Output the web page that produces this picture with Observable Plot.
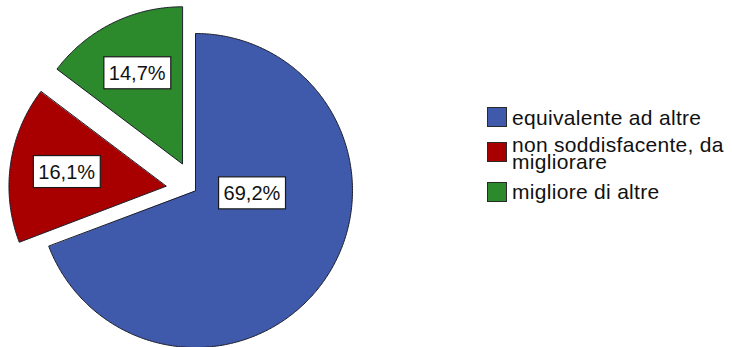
<!DOCTYPE html>
<html>
<head>
<meta charset="utf-8">
<script src="https://cdn.jsdelivr.net/npm/d3@7"></script>
<script src="https://cdn.jsdelivr.net/npm/@observablehq/plot@0.6"></script>
<style>
  html, body { margin: 0; padding: 0; background: #ffffff; }
  #wrap { position: relative; width: 732px; height: 347px; overflow: hidden; font-family: Arial, "Liberation Sans", sans-serif; }
  #wrap svg { position: absolute; left: 0; top: 0; }
  .lg-swatch { position: absolute; width: 20px; height: 20px; border: 1px solid #2a2a2a; box-sizing: border-box; }
  .lg-text { position: absolute; width: 230px; font-size: 21px; line-height: 17px; letter-spacing: 0.3px; color: #111; white-space: pre; }
</style>
</head>
<body>
<div id="wrap"></div>
<script>
// ---- data ----
const categories = ["equivalente ad altre", "non soddisfacente, da\nmigliorare", "migliore di altre"];
const percents = [69.2, 16.1, 14.7];
const colors = ["#3f5aab", "#a80000", "#2c8a2c"];
const explodedSlices = [false, true, true];

// ---- layout ----
const W = 732, H = 347;
const cx = 195, cy = 190, R = 157;   // pie centre and radius in the picture
const explode = 0.19;                 // offset of exploded slices, in radii
const labelOverride = {0: {r: 0.36, deg: 93}}; // big slice label placement (polar, radii/degrees)

const arcs = d3.pie().sort(null).value(d => d)(percents);
const pts = [];
const labels = [];
arcs.forEach((a, i) => {
  const cat = categories[i];
  const mid = (a.startAngle + a.endAngle) / 2;
  const ox = explodedSlices[i] ? explode * Math.sin(mid) : 0;
  const oy = explodedSlices[i] ? explode * Math.cos(mid) : 0;
  pts.push({cat, x: ox, y: oy});
  const n = Math.max(2, Math.ceil((a.endAngle - a.startAngle) / 0.01));
  for (let k = 0; k <= n; k++) {
    const t = a.startAngle + (a.endAngle - a.startAngle) * k / n;
    pts.push({cat, x: ox + Math.sin(t), y: oy + Math.cos(t)});
  }
  const th = a.endAngle - a.startAngle;
  let lx, ly;
  if (labelOverride[i]) {
    const o = labelOverride[i], rad = o.deg * Math.PI / 180;
    lx = ox + o.r * Math.sin(rad); ly = oy + o.r * Math.cos(rad);
  } else {
    const d = 4 * Math.sin(th / 2) / (3 * th); // sector centroid distance
    lx = ox + d * Math.sin(mid); ly = oy + d * Math.cos(mid);
  }
  labels.push({cat, x: lx, y: ly, text: percents[i].toFixed(1).replace(".", ",") + "%"});
});

const chart = Plot.plot({
  width: W, height: H, margin: 0,
  style: {background: "#ffffff", fontFamily: "Arial, 'Liberation Sans', sans-serif"},
  x: {domain: [-cx / R, (W - cx) / R], axis: null},
  y: {domain: [-(H - cy) / R, cy / R], axis: null},
  color: {domain: categories, range: colors},
  marks: [
    Plot.line(pts, {x: "x", y: "y", z: "cat", fill: "cat", stroke: "#1c1c2a", strokeWidth: 1, curve: "linear-closed"}),
    Plot.text(labels, {x: "x", y: "y", text: "text", fontSize: 20, fill: "#111", fontFamily: "Arial, 'Liberation Sans', sans-serif"})
  ]
});
const wrap = document.getElementById("wrap");
wrap.appendChild(chart);

// white boxes behind the percentage labels
const svgNS = "http://www.w3.org/2000/svg";
chart.querySelectorAll('g[aria-label="text"] text').forEach(t => {
  const b = t.getBBox();
  const r = document.createElementNS(svgNS, "rect");
  const h = 32;
  r.setAttribute("x", b.x - 5);
  r.setAttribute("y", b.y + b.height / 2 - h / 2);
  r.setAttribute("width", b.width + 10);
  r.setAttribute("height", h);
  r.setAttribute("fill", "#ffffff");
  r.setAttribute("stroke", "#1a1a1a");
  r.setAttribute("stroke-width", 1.2);
  if (t.getAttribute("transform")) r.setAttribute("transform", t.getAttribute("transform"));
  t.parentNode.insertBefore(r, t);
});

// legend
const swatchTops = [107, 142, 182];
const textTops = [109.2, 136.2, 183.2];
categories.forEach((c, i) => {
  const sw = document.createElement("div");
  sw.className = "lg-swatch";
  sw.style.top = swatchTops[i] + "px";
  sw.style.left = "487px";
  sw.style.background = colors[i];
  wrap.appendChild(sw);
  const tx = document.createElement("div");
  tx.className = "lg-text";
  tx.style.top = textTops[i] + "px";
  tx.style.left = "512px";
  tx.textContent = c;
  wrap.appendChild(tx);
});
</script>
</body>
</html>
